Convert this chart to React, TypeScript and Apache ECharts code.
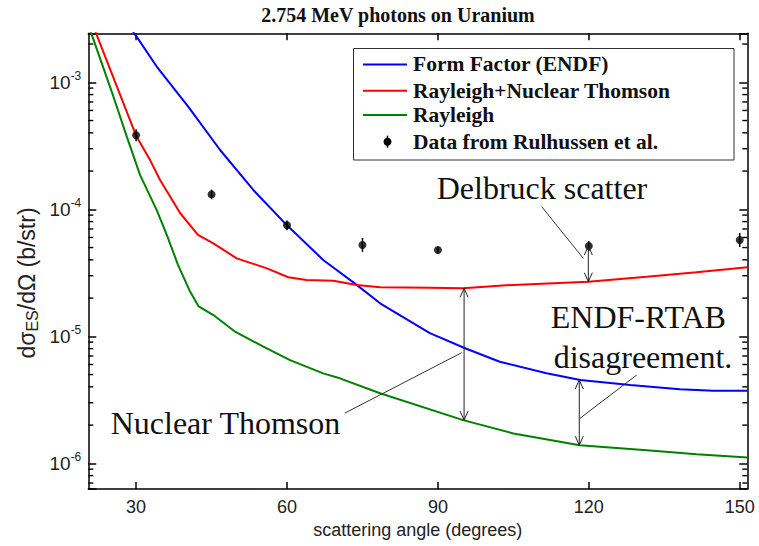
import React, { useEffect, useRef } from 'react';
import * as echarts from 'echarts';

// ---- axis ranges / ticks ----
const X_MIN = 20.5;
const X_MAX = 151.5;
const Y_MIN = 6.28e-7;
const Y_MAX = 2.43e-3;
const xTicks = [30, 60, 90, 120, 150];
const yMajor = [1e-6, 1e-5, 1e-4, 1e-3];
const minorMultipliers = [2, 3, 4, 5, 6, 7, 8, 9];
const decades = [1e-7, 1e-6, 1e-5, 1e-4, 1e-3];

// ---- Form Factor (ENDF) ----
const ffAngle = [29, 30.1, 34.1, 40.4, 46.7, 53.3, 60, 67.2, 73.85, 78.5, 88.4, 95.4, 102.3, 111.6, 118.3, 128.2, 138.1, 144.7, 151.5];
const ffValue = [2.62e-3, 2.29e-3, 1.33e-3, 6.4e-4, 2.93e-4, 1.42e-4, 7.48e-5, 3.99e-5, 2.54e-5, 1.82e-5, 1.06e-5, 8.05e-6, 6.31e-6, 5.12e-6, 4.53e-6, 4.14e-6, 3.83e-6, 3.73e-6, 3.72e-6];

// ---- Rayleigh + Nuclear Thomson ----
const rntAngle = [21, 22.05, 30, 32.78, 34.77, 38.74, 42.3, 45.36, 50, 56, 60.26, 63.9, 69.2, 73.85, 78.5, 88.4, 95, 105, 119.9, 131.5, 141.4, 151.5];
const rntValue = [3.1e-3, 2.43e-3, 3.8e-4, 2.44e-4, 1.7e-4, 9.35e-5, 6.28e-5, 5.4e-5, 4.11e-5, 3.43e-5, 2.92e-5, 2.78e-5, 2.74e-5, 2.54e-5, 2.43e-5, 2.41e-5, 2.39e-5, 2.54e-5, 2.69e-5, 2.94e-5, 3.19e-5, 3.49e-5];

// ---- Rayleigh ----
const rayAngle = [20.5, 21.2, 25.5, 28.15, 30.8, 34.1, 36.1, 38.35, 40.73, 42.44, 45.36, 49.5, 55.3, 60.6, 67.2, 70.5, 78.5, 95, 105, 118.2, 131.5, 141.4, 151.5];
const rayValue = [2.84e-3, 2.36e-3, 7.7e-4, 3.73e-4, 1.86e-4, 9.86e-5, 6.28e-5, 3.64e-5, 2.25e-5, 1.72e-5, 1.47e-5, 1.1e-5, 8.28e-6, 6.5e-6, 5.11e-6, 4.67e-6, 3.56e-6, 2.19e-6, 1.72e-6, 1.39e-6, 1.27e-6, 1.18e-6, 1.11e-6];

// ---- Data from Rulhussen et al. ----
const expAngle = [30, 45, 60, 75, 90, 120, 150];
const expValue = [3.83e-4, 1.31e-4, 7.48e-5, 5.24e-5, 4.78e-5, 5.14e-5, 5.73e-5];
const expLow = [3.43e-4, 1.2e-4, 6.84e-5, 4.62e-5, 4.53e-5, 4.7e-5, 5.05e-5];
const expHigh = [4.27e-4, 1.43e-4, 8.18e-5, 5.95e-5, 5.05e-5, 5.62e-5, 6.5e-5];

// ---- annotation double arrows (angle, top value, bottom value) ----
const arrowAngle = [119.9, 95.2, 118.1];
const arrowTop = [5.14e-5, 2.39e-5, 4.53e-6];
const arrowBottom = [2.69e-5, 2.19e-6, 1.39e-6];

const SANS = 'Liberation Sans, Arial, sans-serif';
const SERIF = 'Liberation Serif, Times New Roman, serif';

const zip = (a: number[], b: number[]) => a.map((v, i) => [v, b[i]]);

export default function App() {
  const ref = useRef<HTMLDivElement>(null);
  useEffect(() => {
    if (!ref.current) return;
    const chart = echarts.init(ref.current, undefined, { renderer: 'svg' });
    const minorVals = decades
      .flatMap((d) => minorMultipliers.map((m) => m * d))
      .filter((v) => v > Y_MIN && v < Y_MAX);

    const axisLineStyle = { color: '#000', width: 1.5 };

    const option: any = {
      animation: false,
      backgroundColor: '#fff',
      grid: { left: 88.3, top: 33.3, right: 11.7, bottom: 57, containLabel: false, outerBoundsMode: 'none' },
      xAxis: [
        {
          type: 'value', min: X_MIN, max: X_MAX, position: 'bottom',
          axisLine: { show: true, lineStyle: axisLineStyle },
          axisTick: { show: true, inside: true, length: 7, customValues: xTicks, lineStyle: axisLineStyle },
          axisLabel: { show: true, customValues: xTicks, fontSize: 18, color: '#222', fontFamily: SANS, margin: 9 },
          splitLine: { show: false },
          name: 'scattering angle (degrees)', nameLocation: 'middle', nameGap: 28,
          nameTextStyle: { fontSize: 18, color: '#222', fontFamily: SANS },
        },
        {
          type: 'value', min: X_MIN, max: X_MAX, position: 'top',
          axisLine: { show: true, lineStyle: axisLineStyle },
          axisTick: { show: true, inside: true, length: 7, customValues: xTicks, lineStyle: axisLineStyle },
          axisLabel: { show: false },
          splitLine: { show: false },
        },
      ],
      yAxis: [
        {
          type: 'log', logBase: 10, min: Y_MIN, max: Y_MAX, position: 'left',
          axisLine: { show: true, lineStyle: axisLineStyle },
          axisTick: { show: true, inside: true, length: 8, lineStyle: axisLineStyle },
          axisLabel: {
            show: true, margin: 7, color: '#222', fontFamily: SANS,
            formatter: (v: number) => {
              const hit = yMajor.find((m) => Math.abs(Math.log10(v) - Math.log10(m)) < 1e-6);
              if (hit === undefined) return '';
              return `{b|10}{s|${Math.round(Math.log10(hit))}}`;
            },
            rich: {
              b: { fontSize: 19, lineHeight: 24, fontFamily: SANS, color: '#222' },
              s: { fontSize: 12, lineHeight: 11, verticalAlign: 'top', fontFamily: SANS, color: '#222' },
            },
          },
          splitLine: { show: false },
        },
        {
          type: 'log', logBase: 10, min: Y_MIN, max: Y_MAX, position: 'right',
          axisLine: { show: true, lineStyle: axisLineStyle },
          axisTick: { show: true, inside: true, length: 8, lineStyle: axisLineStyle },
          axisLabel: { show: false },
          splitLine: { show: false },
        },
      ],
      series: [
        {
          name: 'Form Factor (ENDF)', type: 'line', data: zip(ffAngle, ffValue), showSymbol: false,
          lineStyle: { color: '#0000ff', width: 2 }, itemStyle: { color: '#0000ff' }, silent: true, z: 3,
        },
        {
          name: 'Rayleigh+Nuclear Thomson', type: 'line', data: zip(rntAngle, rntValue), showSymbol: false,
          lineStyle: { color: '#ff0000', width: 2 }, itemStyle: { color: '#ff0000' }, silent: true, z: 3,
        },
        {
          name: 'Rayleigh', type: 'line', data: zip(rayAngle, rayValue), showSymbol: false,
          lineStyle: { color: '#008000', width: 2 }, itemStyle: { color: '#008000' }, silent: true, z: 3,
        },
        {
          name: 'Data error bars', type: 'custom', silent: true, z: 4,
          data: expAngle.map((a, i) => [a, expValue[i], expLow[i], expHigh[i]]),
          encode: { x: 0, y: [1, 2, 3] },
          renderItem: (params: any, api: any) => {
            const lo = api.coord([api.value(0), api.value(2)]);
            const hi = api.coord([api.value(0), api.value(3)]);
            return { type: 'line', shape: { x1: lo[0], y1: lo[1], x2: hi[0], y2: hi[1] }, style: { stroke: '#000', lineWidth: 1.5 } };
          },
        },
        {
          name: 'Data from Rulhussen et al.', type: 'scatter', data: zip(expAngle, expValue),
          symbol: 'circle', symbolSize: 8, itemStyle: { color: '#000' }, silent: true, z: 5,
        },
        {
          name: 'annotation arrows', type: 'custom', silent: true, z: 6,
          data: arrowAngle.map((a, i) => [a, arrowTop[i], arrowBottom[i]]),
          encode: { x: 0, y: [1, 2] },
          renderItem: (params: any, api: any) => {
            const p1 = api.coord([api.value(0), api.value(1)]);
            const p2 = api.coord([api.value(0), api.value(2)]);
            const h = 9, w = 4;
            const st = { stroke: '#222', lineWidth: 1, fill: 'none' };
            return {
              type: 'group',
              children: [
                { type: 'line', shape: { x1: p1[0], y1: p1[1], x2: p2[0], y2: p2[1] }, style: st },
                { type: 'polyline', shape: { points: [[p1[0] - w, p1[1] + h], [p1[0], p1[1]], [p1[0] + w, p1[1] + h]] }, style: st },
                { type: 'polyline', shape: { points: [[p2[0] - w, p2[1] - h], [p2[0], p2[1]], [p2[0] + w, p2[1] - h]] }, style: st },
              ],
            };
          },
        },
        {
          name: 'minor ticks', type: 'custom', silent: true, z: 7,
          data: minorVals.map((v) => [X_MIN, v]),
          encode: { x: 0, y: 1 },
          renderItem: (params: any, api: any) => {
            const v = api.value(1);
            const pl = api.coord([X_MIN, v]);
            const pr = api.coord([X_MAX, v]);
            const st = { stroke: '#000', lineWidth: 1.4 };
            return {
              type: 'group',
              children: [
                { type: 'line', shape: { x1: pl[0], y1: pl[1], x2: pl[0] + 5, y2: pl[1] }, style: st },
                { type: 'line', shape: { x1: pr[0], y1: pr[1], x2: pr[0] - 5, y2: pr[1] }, style: st },
              ],
            };
          },
        },
      ],
      graphic: [
        {
          type: 'text', x: 398, y: 15, z: 100,
          style: { text: '2.754 MeV photons on Uranium', font: `bold 20px ${SERIF}`, fill: '#111', align: 'center', verticalAlign: 'middle' },
        },
        {
          type: 'text', x: 27, y: 283, rotation: Math.PI / 2, z: 100,
          style: {
            text: '{n|dσ}{sub|ES}{n|/dΩ (b/str)}', align: 'center', verticalAlign: 'middle',
            rich: {
              n: { fontSize: 23, lineHeight: 26, fontFamily: SANS, fill: '#222' },
              sub: { fontSize: 16, lineHeight: 15, verticalAlign: 'bottom', fontFamily: SANS, fill: '#222' },
            },
          },
        },
        // legend
        {
          type: 'group', z: 100,
          children: [
            { type: 'rect', shape: { x: 353.5, y: 48.5, width: 380.5, height: 111.5 }, style: { fill: '#fff', stroke: '#333', lineWidth: 1 } },
            { type: 'line', shape: { x1: 363, y1: 64.4, x2: 407, y2: 64.4 }, style: { stroke: '#0000ff', lineWidth: 2 } },
            { type: 'line', shape: { x1: 363, y1: 90.8, x2: 407, y2: 90.8 }, style: { stroke: '#ff0000', lineWidth: 2 } },
            { type: 'line', shape: { x1: 363, y1: 115, x2: 407, y2: 115 }, style: { stroke: '#008000', lineWidth: 2 } },
            { type: 'line', shape: { x1: 387.5, y1: 135.7, x2: 387.5, y2: 147.7 }, style: { stroke: '#000', lineWidth: 1.5 } },
            { type: 'circle', shape: { cx: 387.5, cy: 141.7, r: 4 }, style: { fill: '#000' } },
            { type: 'text', x: 413, y: 64.4, style: { text: 'Form Factor (ENDF)', font: `bold 21.5px ${SERIF}`, fill: '#111', verticalAlign: 'middle' } },
            { type: 'text', x: 413, y: 90.8, style: { text: 'Rayleigh+Nuclear Thomson', font: `bold 21.5px ${SERIF}`, fill: '#111', verticalAlign: 'middle' } },
            { type: 'text', x: 413, y: 115, style: { text: 'Rayleigh', font: `bold 21.5px ${SERIF}`, fill: '#111', verticalAlign: 'middle' } },
            { type: 'text', x: 413, y: 141.7, style: { text: 'Data from Rulhussen et al.', font: `bold 21.5px ${SERIF}`, fill: '#111', verticalAlign: 'middle' } },
          ],
        },
        // annotations
        { type: 'text', x: 436.7, y: 188.3, z: 100, style: { text: 'Delbruck scatter', font: `32px ${SERIF}`, fill: '#111', verticalAlign: 'middle' } },
        { type: 'text', x: 638.3, y: 316.7, z: 100, style: { text: 'ENDF-RTAB', font: `32px ${SERIF}`, fill: '#111', align: 'center', verticalAlign: 'middle' } },
        { type: 'text', x: 643, y: 356.7, z: 100, style: { text: 'disagreement.', font: `32px ${SERIF}`, fill: '#111', align: 'center', verticalAlign: 'middle' } },
        { type: 'text', x: 110.7, y: 423.3, z: 100, style: { text: 'Nuclear Thomson', font: `32px ${SERIF}`, fill: '#111', verticalAlign: 'middle' } },
        { type: 'line', z: 100, shape: { x1: 541.7, y1: 206.7, x2: 583.3, y2: 258.3 }, style: { stroke: '#333', lineWidth: 1 } },
        { type: 'line', z: 100, shape: { x1: 345, y1: 413, x2: 461.7, y2: 352.7 }, style: { stroke: '#333', lineWidth: 1 } },
        { type: 'line', z: 100, shape: { x1: 636.7, y1: 375, x2: 580, y2: 418.3 }, style: { stroke: '#333', lineWidth: 1 } },
      ],
    };
    chart.setOption(option);
    return () => chart.dispose();
  }, []);
  return <div ref={ref} style={{ position: 'fixed', left: 0, top: 0, width: 759, height: 546, background: '#fff' }} />;
}
